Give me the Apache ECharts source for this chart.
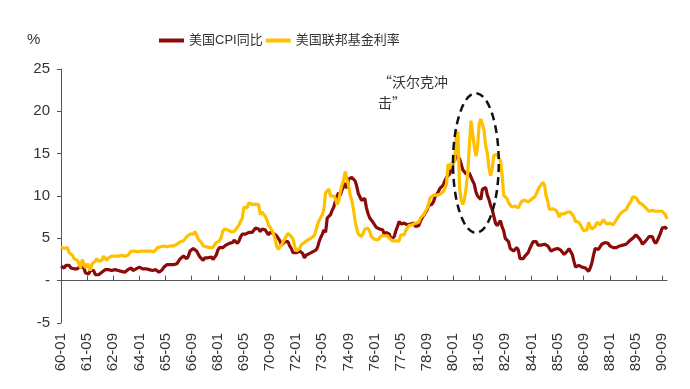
<!DOCTYPE html>
<html>
<head>
<meta charset="utf-8">
<script src="https://cdn.jsdelivr.net/npm/echarts@6/dist/echarts.min.js"></script>
<style>html,body{margin:0;padding:0;background:#fff;}#c{width:690px;height:389px;}</style>
</head>
<body>
<div id="c"></div>
<script>
// Categories: monthly 1960-01 .. 1990-12
const months = [];
for (let y = 1960; y <= 1990; y++) {
  for (let m = 1; m <= 12; m++) {
    months.push(String(y).slice(2) + '-' + (m < 10 ? '0' + m : m));
  }
}
const seriesNames = ['美国CPI同比', '美国联邦基金利率'];
const yTicks = [-5, 0, 5, 10, 15, 20, 25];

// US CPI YoY (%), one row per year
const cpi = [
  1.7,1.6,1.5,1.8,1.8,1.8,1.5,1.5,1.4,1.4,1.4,1.5,
  1.7,1.5,1.5,0.9,0.9,0.8,1.2,1.1,1.2,0.7,0.7,0.7,
  0.7,1.0,1.1,1.3,1.3,1.3,1.1,1.2,1.3,1.3,1.3,1.2,
  1.3,1.1,1.2,1.0,1.0,1.3,1.5,1.5,1.2,1.3,1.4,1.6,
  1.6,1.6,1.4,1.5,1.4,1.3,1.3,1.1,1.2,1.2,1.3,1.1,
  1.0,1.0,1.3,1.6,1.7,1.9,1.7,1.9,1.7,1.9,2.0,2.0,
  2.0,2.6,2.6,2.9,2.8,2.6,2.9,3.5,3.5,3.8,3.7,3.5,
  3.4,2.8,2.8,2.4,2.7,2.8,2.7,2.5,2.8,2.5,2.7,3.0,
  3.6,3.9,3.9,3.9,3.9,4.2,4.4,4.4,4.5,4.5,4.8,4.7,
  4.4,4.7,5.2,5.5,5.5,5.5,5.4,5.7,5.7,5.7,5.9,6.2,
  6.2,6.1,5.8,6.1,6.0,6.0,6.0,5.4,5.7,5.6,5.6,5.6,
  5.3,5.0,4.7,4.2,4.4,4.6,4.4,4.6,4.1,3.8,3.3,3.3,
  3.3,3.5,3.5,3.5,3.2,2.7,3.0,2.9,3.2,3.4,3.4,3.4,
  3.6,3.9,4.6,5.1,5.5,6.0,5.7,7.4,7.4,7.8,8.3,8.7,
  9.4,10.0,10.4,10.1,10.7,10.9,11.5,10.9,12.0,12.1,12.2,12.3,
  11.8,11.2,10.3,10.2,9.5,9.4,9.7,8.6,7.9,7.4,7.4,6.9,
  6.7,6.3,6.1,6.1,6.2,6.0,5.4,5.7,5.5,5.5,4.9,4.9,
  5.2,5.9,6.4,7.0,6.7,6.9,6.8,6.6,6.6,6.4,6.7,6.7,
  6.8,6.4,6.6,6.5,7.0,7.4,7.7,7.8,8.3,8.9,8.9,9.0,
  9.3,9.9,10.1,10.5,10.9,10.9,11.3,11.8,12.2,12.1,12.6,13.3,
  13.9,14.2,14.8,14.7,14.4,14.4,13.1,12.9,12.6,12.8,12.7,12.5,
  11.8,11.4,10.5,10.0,9.8,9.6,10.8,10.8,11.0,10.1,9.6,8.9,
  8.4,7.6,6.8,6.5,6.7,7.1,6.4,5.9,5.0,5.1,4.6,3.8,
  3.7,3.5,3.6,3.9,3.6,2.6,2.5,2.6,2.9,2.9,3.3,3.8,
  4.2,4.6,4.8,4.6,4.2,4.2,4.2,4.3,4.3,4.3,4.1,4.0,
  3.5,3.5,3.7,3.7,3.8,3.8,3.6,3.4,3.1,3.2,3.5,3.8,
  3.9,3.1,2.3,1.6,1.5,1.8,1.6,1.6,1.8,1.5,1.3,1.1,
  1.5,2.1,3.0,3.8,3.9,3.7,3.9,4.3,4.4,4.5,4.5,4.4,
  4.1,3.9,3.9,3.9,3.9,4.0,4.1,4.0,4.2,4.3,4.3,4.4,
  4.7,4.8,5.0,5.1,5.4,5.2,5.0,4.7,4.3,4.5,4.7,4.7,
  5.2,5.3,5.2,4.7,4.4,4.7,4.8,5.6,6.2,6.3,6.3,6.1
];

// US effective federal funds rate (%), one row per year
const fedFunds = [
  4.0,4.0,3.8,3.9,3.9,3.3,3.2,3.0,2.6,2.5,2.4,2.0,
  1.5,2.5,2.0,1.5,2.0,1.7,1.2,2.0,1.9,2.3,2.6,2.3,
  2.2,2.4,2.9,2.8,2.4,2.7,2.7,2.9,2.9,2.9,2.9,2.9,
  2.9,3.0,3.0,2.9,3.0,3.0,3.0,3.5,3.5,3.5,3.5,3.4,
  3.5,3.5,3.4,3.5,3.5,3.5,3.4,3.5,3.5,3.4,3.5,3.9,
  3.9,4.0,4.0,4.1,4.1,4.0,4.1,4.1,4.0,4.1,4.1,4.3,
  4.4,4.6,4.7,4.7,4.9,5.2,5.3,5.5,5.4,5.5,5.8,5.4,
  4.9,5.0,4.5,4.1,3.9,4.0,3.8,3.9,4.0,3.9,4.1,4.5,
  4.6,4.7,5.1,5.8,6.1,6.1,6.0,6.0,5.8,5.9,5.8,6.0,
  6.3,6.6,6.8,7.4,8.7,8.9,8.6,9.2,9.2,9.0,8.9,9.0,
  9.0,9.0,7.8,8.1,8.0,7.6,7.2,6.6,6.3,6.2,5.6,4.9,
  4.1,3.7,3.7,4.2,4.6,4.9,5.3,5.6,5.6,5.2,4.9,4.1,
  3.5,3.3,3.8,4.2,4.3,4.5,4.6,4.8,4.9,5.0,5.1,5.3,
  5.9,6.6,7.1,7.1,7.8,8.5,10.4,10.5,10.8,10.0,10.0,10.0,
  9.7,9.0,9.4,10.5,11.3,11.9,12.9,12.0,11.3,10.1,9.5,8.5,
  7.1,6.2,5.5,5.5,5.2,5.6,6.1,6.1,6.2,5.8,5.2,5.2,
  4.9,4.8,4.8,4.8,5.3,5.5,5.3,5.3,5.3,5.0,5.0,4.7,
  4.6,4.7,4.7,4.7,5.4,5.4,5.4,5.9,6.1,6.5,6.5,6.6,
  6.7,6.8,6.8,6.9,7.4,7.6,7.8,8.0,8.5,9.0,9.8,10.0,
  10.1,10.1,10.1,10.0,10.2,10.3,10.5,10.9,11.4,13.8,13.2,13.8,
  13.8,14.1,17.2,17.6,11.0,9.5,9.0,9.6,10.9,12.8,15.9,18.9,
  19.1,15.9,14.7,15.7,18.5,19.1,19.0,17.8,15.9,15.1,13.3,12.4,
  13.2,14.8,14.7,14.9,14.5,14.2,12.6,10.1,10.3,9.7,9.2,9.0,
  8.7,8.5,8.8,8.8,8.6,9.0,9.4,9.6,9.5,9.5,9.3,9.5,
  9.6,9.6,9.9,10.3,10.3,11.1,11.2,11.6,11.3,10.0,9.4,8.4,
  8.4,8.5,8.6,8.3,8.0,7.5,7.9,7.9,7.9,8.0,8.1,8.3,
  8.1,7.9,7.5,7.0,6.9,6.9,6.6,6.2,5.9,5.9,6.0,6.9,
  6.4,6.1,6.1,6.4,6.9,6.7,6.6,6.7,7.2,7.3,6.7,6.8,
  6.8,6.6,6.6,6.9,7.1,7.5,7.8,8.0,8.2,8.3,8.4,8.8,
  9.1,9.4,9.9,9.8,9.8,9.5,9.2,9.0,9.0,8.8,8.6,8.5,
  8.2,8.2,8.3,8.3,8.2,8.3,8.2,8.1,8.2,8.1,7.8,7.3
];

const FONT = 'Arial, "Liberation Sans", "Noto Sans CJK SC", sans-serif';
const chart = echarts.init(document.getElementById('c'), null, {renderer: 'canvas'});
const axisColor = '#555';

chart.setOption({
  animation: false,
  backgroundColor: '#fff',
  grid: {left: 61, right: 23, top: 69, bottom: 66},
  legend: {
    left: 154, top: 29,
    itemWidth: 25, itemHeight: 4, itemGap: 3,
    icon: 'rect',
    textStyle: {fontSize: 13, color: '#333', fontFamily: FONT},
    data: seriesNames
  },
  xAxis: [{
    type: 'category', data: months, boundaryGap: false, position: 'bottom',
    axisLine: {show: false, onZero: false},
    axisTick: {show: false},
    axisLabel: {interval: 15, rotate: 90, margin: 10, fontSize: 15, color: '#333', fontFamily: FONT}
  }, {
    type: 'category', data: months, boundaryGap: false, position: 'bottom',
    axisLine: {show: true, onZero: true, lineStyle: {color: axisColor, width: 1}},
    axisTick: {show: true, inside: true, interval: 15, length: 5, lineStyle: {color: axisColor}},
    axisLabel: {show: false}
  }],
  yAxis: {
    type: 'value', min: yTicks[0], max: yTicks[yTicks.length - 1], interval: 5,
    axisLine: {show: true, lineStyle: {color: axisColor, width: 1}},
    axisTick: {show: true, length: 4, lineStyle: {color: axisColor}},
    splitLine: {show: false},
    axisLabel: {
      margin: 11, fontSize: 15, color: '#333', fontFamily: FONT,
      formatter: v => (v === 0 ? '-' : String(v))
    }
  },
  series: [{
    name: seriesNames[0], type: 'line', data: cpi, showSymbol: false, symbol: 'none',
    lineStyle: {color: '#8B0A0A', width: 3.2}, itemStyle: {color: '#8B0A0A'}
  }, {
    name: seriesNames[1], type: 'line', data: fedFunds, showSymbol: false, symbol: 'none',
    lineStyle: {color: '#FFC000', width: 3.2}, itemStyle: {color: '#FFC000'}
  }]
});

// Annotation: dashed ellipse around the Volcker period, and label
const P = (cat, v) => chart.convertToPixel({xAxisIndex: 0, yAxisIndex: 0}, [cat, v]);
const c = P('81-03', 13.9);
const rxP = P('82-05', 13.9);
const ryP = P('81-03', 22.15);
const tp = P('76-03', 24.7);
chart.setOption({
  graphic: [{
    type: 'ellipse',
    shape: {cx: c[0], cy: c[1], rx: rxP[0] - c[0], ry: c[1] - ryP[1]},
    style: {fill: 'none', stroke: '#111', lineWidth: 2.5, lineDash: [8, 5]},
    z: 100
  }, {
    type: 'text', x: tp[0], y: tp[1],
    style: {
      text: '“沃尔克冲\n击”', fontSize: 14, lineHeight: 21,
      fill: '#333', fontFamily: '"Noto Sans CJK SC", sans-serif',
      align: 'left', verticalAlign: 'top'
    },
    z: 100
  }, {
    type: 'text', left: 27, top: 32,
    style: {text: '%', fontSize: 15, fill: '#333', fontFamily: FONT}
  }]
});
</script>
</body>
</html>
